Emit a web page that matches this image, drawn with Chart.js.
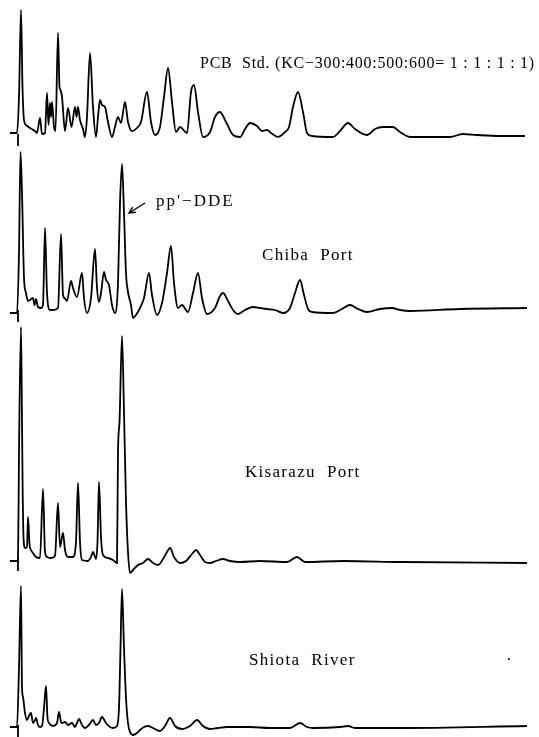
<!DOCTYPE html>
<html>
<head>
<meta charset="utf-8">
<script src="https://cdn.jsdelivr.net/npm/chart.js@4"></script>
<style>
  body { margin: 0; background: #fff; }
  #wrap { position: relative; width: 539px; height: 737px; }
  #chrom { position: absolute; left: 0; top: 0; }
  .lbl { position: absolute; font-family: "Liberation Serif", serif; font-size: 17px;
         letter-spacing: 1.3px; color: #000; white-space: nowrap; line-height: 1; }
</style>
</head>
<body>
<div id="wrap">
  <canvas id="chrom" width="539" height="737"></canvas>
  <div class="lbl" style="left:200px; top:55px; font-size:16px; letter-spacing:0.75px;">PCB&nbsp; Std. (KC−300:400:500:600= 1 : 1 : 1 : 1)</div>
  <div class="lbl" style="left:156px; top:192px; letter-spacing:2px;">pp'−DDE</div>
  <div class="lbl" style="left:262px; top:246px;">Chiba&nbsp; Port</div>
  <div class="lbl" style="left:245px; top:463px;">Kisarazu&nbsp; Port</div>
  <div class="lbl" style="left:249px; top:651px;">Shiota&nbsp; River</div>
  <div class="lbl" style="left:506px; top:651px;">·</div>
</div>
<script>
// retention position (arbitrary units) and detector response above each baseline
const stdX = [10,17,19,21,22.5,24,26,30,35,37,40,42,45,47,48.5,50,51,52,54,55.5,58,59.5,60.5,62,65,68,71.5,75,76.5,78,80,83,85,87,90,93,96,98,100,102,105,108,112,115,118,121,125,128,132,137,141,147,151,155,160,164,168,172,176,180,187,191,194,198,203,210,215,220,226,233,240,245,250,257,262,267,271,278,285,289,293,298,303,307,312,333,340,348,355,367,375,383,393,400,410,450,463,477,500,525];
const stdY = [4,4,40,127,50,17,12,9,6,4,19,3,4,44,12,34,20,35,10,6,104,50,47,40,6,29,10,30,20,30,17,8,0,20,84,30,0,20,37,32,30,15,0,10,20,14,35,15,6,9,15,45,15,2,10,40,69,35,5,10,4,45,52,25,0,5,20,25,15,2,0,8,14,11,6,7,4,0,5,10,30,45,25,4,1,0,6,14,8,2,8,10,10,5,0,0,3,2,1,1];

const chibaX = [10,17,19,20.5,22,24,26,28,30,33,34.5,36,38,41,43,45,47,50,53,58,61,63,64.5,67,71,73,77,82,84,87,91,95,97,99,101,104,106,109,112,115,118,120,122,124,126,128,131,133,136,140,144,149,152,157,162,167,171,174,178,182,188,193,198,202,207,215,220,223,228,233,238,245,253,260,267,275,283,290,295,300,304,308,312,333,342,350,358,367,380,392,400,410,460,527];
const chibaY = [0,0,60,161,120,35,20,12,13,15,8,14,6,5,8,85,20,3,3,5,79,18,15,12,32,25,16,40,15,0,15,64,25,11,20,41,33,28,8,0,30,110,149,100,40,21,8,-5,-2,5,15,40,18,-2,10,40,67,30,5,8,1,20,40,15,-1,5,17,20,12,3,-1,3,6,5,4,3,0,5,20,33,18,4,1,0,4,8,4,1,4,5,3,2,4,5];

const kisaX = [10,17,18,19,21,22,22.7,23.3,25,27,28,29.5,31,33,36,40,43,45,47,51,55,58,60,62,63,65,68,73,76,78,80,82,88,91,93,96,97.5,99,101,103,108,113,117,118,119.5,122,124,126,128,130,133,138,143,148,153,158,163,167,170,174,180,186,192,196,200,205,210,216,223,230,240,260,287,297,305,343,400,527];
const kisaY = [1,1,1,110,235,140,67,30,14,15,45,18,12,9,5,4,73,10,5,4,6,59,15,25,29,12,5,5,20,79,20,2,1,5,10,3,20,80,25,7,4,2,-1,110,140,226,150,60,10,-11,-8,-3,-1,3,-1,-3,3,10,14,5,-1,1,8,12,7,0,-1,1,3,1,0,1,0,5,0,1,0,-1];

const shiotaX = [10,17,19,21,22,23,25,27,29,31,33,35,36,38,40,42,44,46,47.5,49,53,57,59,61,62,65,68,72,75,77,79,82,85,89,93,96,99,102,106,110,113,117,119,120.5,122,124,126,128,130,133,137,140,144,148,153,160,165,170,175,182,190,197,203,210,218,227,250,270,290,300,307,313,340,348,355,400,527];
const shiotaY = [1,1,60,142,41,31,15,8,12,15,5,8,10,3,1,2,20,42,10,5,2,5,16,6,5,6,3,5,1,5,9,3,0,3,8,3,5,11,5,1,0,2,20,80,139,80,30,5,-4,-7,-5,-2,1,2,0,-3,2,10,2,-1,2,8,2,-1,0,1,1,0,0,5,1,0,1,2,0,0,2];

// baseline position of each trace (axis top value, 1 unit = 1 px)
const baselines = [137, 313, 562, 728];
const injectionX = 18;
const injectionDip = -9;
// arrow pointing at pp'-DDE on the Chiba trace
const arrowFrom = [145, 110];
const arrowTo = [129, 100];

function pts(xs, ys) { return xs.map((x, i) => ({ x: x, y: ys[i] })); }

const traces = [pts(stdX, stdY), pts(chibaX, chibaY), pts(kisaX, kisaY), pts(shiotaX, shiotaY)];

const datasets = [];
const scales = { x: { type: 'linear', min: 0, max: 539, display: false } };
traces.forEach((data, i) => {
  const id = 'y' + i;
  scales[id] = { type: 'linear', min: baselines[i] - 737, max: baselines[i], display: false };
  datasets.push({
    data: data, yAxisID: id, borderColor: '#000', borderWidth: 1.8,
    pointRadius: 0, cubicInterpolationMode: 'monotone', fill: false
  });
  // injection marker
  datasets.push({
    data: [{ x: injectionX, y: 3 }, { x: injectionX, y: injectionDip }], yAxisID: id,
    borderColor: '#000', borderWidth: 1.8, pointRadius: 0, tension: 0
  });
});

const arrowPlugin = {
  id: 'ddeArrow',
  afterDatasetsDraw(chart) {
    const ctx = chart.ctx, xs = chart.scales.x, ys = chart.scales.y1;
    const x1 = xs.getPixelForValue(arrowFrom[0]), y1 = ys.getPixelForValue(arrowFrom[1]);
    const x2 = xs.getPixelForValue(arrowTo[0]), y2 = ys.getPixelForValue(arrowTo[1]);
    const a = Math.atan2(y2 - y1, x2 - x1);
    ctx.save();
    ctx.strokeStyle = '#000';
    ctx.lineWidth = 1.4;
    ctx.beginPath();
    ctx.moveTo(x1, y1);
    ctx.lineTo(x2, y2);
    ctx.moveTo(x2 - 7 * Math.cos(a - 0.45), y2 - 7 * Math.sin(a - 0.45));
    ctx.lineTo(x2, y2);
    ctx.lineTo(x2 - 7 * Math.cos(a + 0.45), y2 - 7 * Math.sin(a + 0.45));
    ctx.stroke();
    ctx.restore();
  }
};

new Chart(document.getElementById('chrom'), {
  type: 'line',
  data: { datasets: datasets },
  options: {
    responsive: false,
    animation: false,
    layout: { padding: 0 },
    plugins: { legend: { display: false }, tooltip: { enabled: false } },
    scales: scales
  },
  plugins: [arrowPlugin]
});
</script>
</body>
</html>
